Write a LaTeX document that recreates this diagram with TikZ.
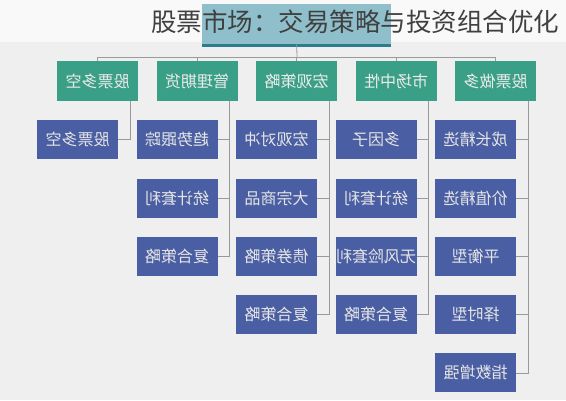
\documentclass[tikz,border=0pt]{standalone}
\usepackage{fontspec}
\usepackage{graphicx}
\newfontfamily\cjk{Noto Sans CJK SC}
\definecolor{bgc}{HTML}{EFEFEF}
\definecolor{topc}{HTML}{F9F9F9}
\definecolor{hdc}{HTML}{8EBFCB}
\definecolor{hdb}{HTML}{2C7E8E}
\definecolor{lonec}{HTML}{3A9F87}
\definecolor{ltwoc}{HTML}{4A5EA3}
\definecolor{linec}{HTML}{9A9A9A}
\definecolor{titc}{HTML}{404040}
\newcommand{\mir}[1]{\scalebox{-1}[1]{#1}}
\tikzset{
  lone/.style={fill=lonec, minimum width=81pt, minimum height=40pt, inner sep=0pt,
    text=white!92!black, font=\cjk\fontsize{16}{16}\selectfont, anchor=north west},
  ltwo/.style={fill=ltwoc, minimum width=81pt, minimum height=39pt, inner sep=0pt,
    text=white!90!black, font=\cjk\fontsize{16}{16}\selectfont, anchor=north west},
  conn/.style={draw=linec, line width=0.8pt},
}
\begin{document}
\begin{tikzpicture}[x=1pt,y=-1pt]
\useasboundingbox (0,0) rectangle (566,400);
\clip (0,0) rectangle (566,400);
\fill[bgc] (0,0) rectangle (566,400);
\fill[topc] (0,0) rectangle (566,42);
% header box
\node[fill=hdc, minimum width=189pt, minimum height=40pt, inner sep=0pt, anchor=north west] (top) at (202,4) {};
\fill[hdb] (202,44) rectangle (391,47);
\coordinate (hub) at (297,57);
\draw[conn] (top.south) -- (hub);
% level one
\foreach \t [count=\i from 0] in {股票多空,管理期货,宏观策略,市场中性,股票做多}{
  \node[lone] (a\i) at (57+99.5*\i,61) {\mir{\t}};
  \draw[conn] (a\i.north) |- (hub);
}
% level two
\foreach \col/\list in {0/{股票多空},1/{趋势跟踪,统计套利,复合策略},2/{宏观对冲,大宗商品,债券策略,复合策略},3/{多因子,统计套利,无风险套利,复合策略},4/{成长精选,价值精选,平衡型,择时型,指数增强}}{
  \foreach \t [count=\j from 0] in \list {
    \node[ltwo] (b\col-\j) at (37+99.5*\col,120+58.3*\j) {\mir{\t}};
    \draw[conn] ([xshift=73pt]a\col.south west) |- (b\col-\j.east);
  }
}
% title
\node[anchor=west, text=titc, font=\cjk\fontsize{25.5}{25.5}\selectfont, inner sep=0pt] (title) at (151,22) {股票市场：交易策略与投资组合优化};
\end{tikzpicture}
\end{document}
